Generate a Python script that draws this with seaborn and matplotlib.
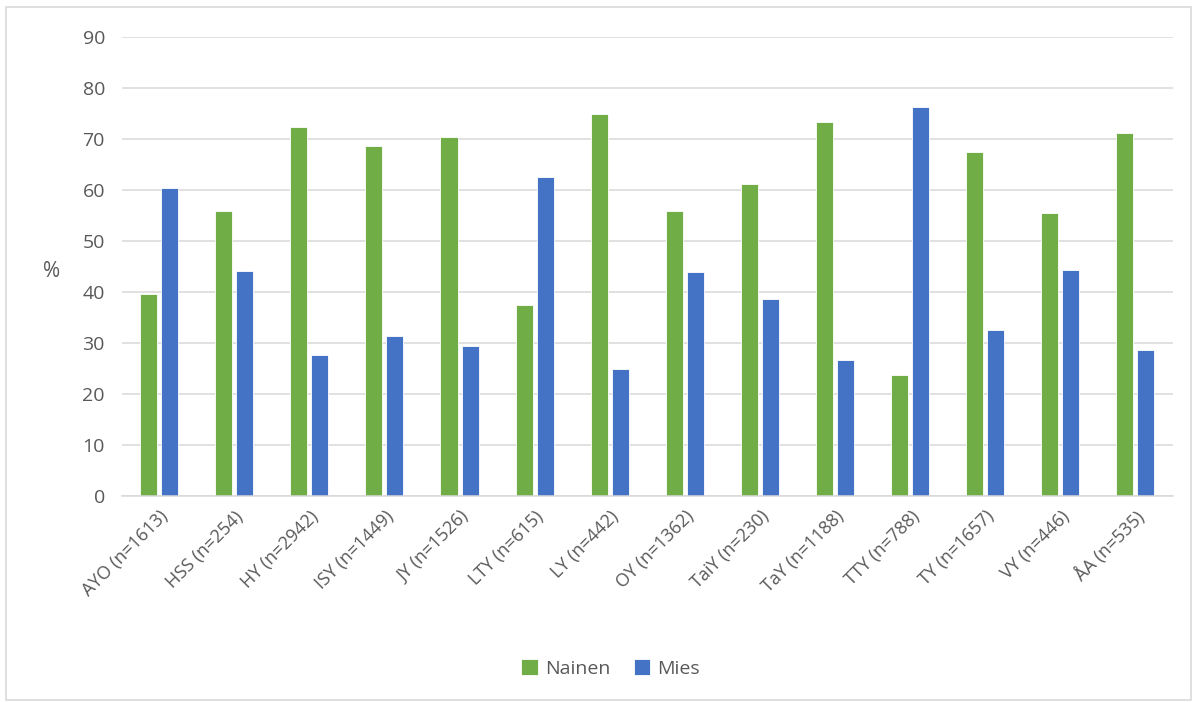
import pandas as pd
import seaborn as sns
import matplotlib.pyplot as plt
from matplotlib.patches import Rectangle

categories = ['AYO (n=1613)', 'HSS (n=254)', 'HY (n=2942)', 'ISY (n=1449)',
              'JY (n=1526)', 'LTY (n=615)', 'LY (n=442)', 'OY (n=1362)',
              'TaiY (n=230)', 'TaY (n=1188)', 'TTY (n=788)', 'TY (n=1657)',
              'VY (n=446)', 'ÅA (n=535)']
nainen = [39.6, 55.9, 72.3, 68.6, 70.5, 37.5, 75.0, 56.0, 61.3, 73.3, 23.7, 67.4, 55.6, 71.3]
mies = [60.4, 44.1, 27.7, 31.4, 29.5, 62.5, 25.0, 44.0, 38.7, 26.7, 76.3, 32.6, 44.4, 28.7]

df = pd.DataFrame({
    'kategoria': categories * 2,
    'arvo': nainen + mies,
    'sukupuoli': ['Nainen'] * len(categories) + ['Mies'] * len(categories),
})

sns.set_style('white')
plt.rcParams['font.family'] = ['Open Sans', 'DejaVu Sans']
txt = '#595959'

fig = plt.figure(figsize=(11.92, 7.02), dpi=100)
ax = fig.add_axes([0.102, 0.293, 0.882, 0.654])
sns.barplot(data=df, x='kategoria', y='arvo', hue='sukupuoli',
            palette={'Nainen': '#70AD47', 'Mies': '#4472C4'},
            width=0.56, gap=0.19, saturation=1, ax=ax,
            edgecolor='white', linewidth=0.6)

ax.set_ylim(0, 90)
ax.set_yticks(range(0, 91, 10))
ax.yaxis.grid(True, color='#d9d9d9', linewidth=1.1)
ax.set_axisbelow(True)
for s in ['top', 'right', 'left']:
    ax.spines[s].set_visible(False)
ax.spines['bottom'].set_color('#d9d9d9')
ax.spines['bottom'].set_linewidth(1.1)
ax.tick_params(axis='y', length=0, labelsize=14, colors=txt, pad=12)
ax.tick_params(axis='x', length=0, labelsize=13, colors=txt, pad=8)
ax.set_xlabel('')
ax.set_ylabel('%', rotation=0, fontsize=15, color=txt, va='center', ha='center')
ax.yaxis.set_label_coords(-0.067, 0.49)
plt.setp(ax.get_xticklabels(), rotation=45, ha='right', rotation_mode='anchor')

ax.legend(loc='center', bbox_to_anchor=(0.465, -0.375), ncol=2, frameon=False,
          fontsize=14, handlelength=0.85, handleheight=0.85, columnspacing=1.2,
          handletextpad=0.35, labelcolor=txt)

fig.patches.append(Rectangle((0.005, 0.003), 0.994, 0.987, transform=fig.transFigure,
                             fill=False, edgecolor='#d9d9d9', linewidth=1.2))

fig.savefig('out.png', dpi=100)
